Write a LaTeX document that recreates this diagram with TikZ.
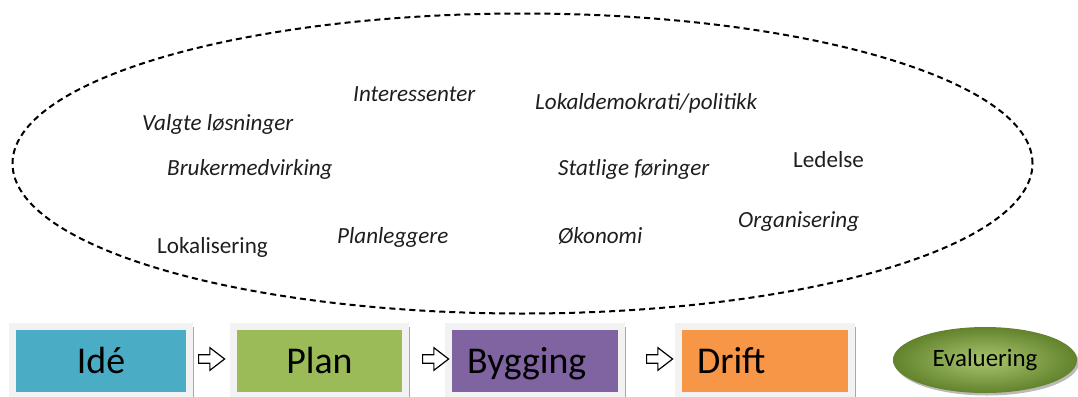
\documentclass[tikz,border=0pt]{standalone}
\usepackage{fontspec}
\setmainfont{Carlito}
\usetikzlibrary{shapes.geometric,shapes.arrows,shadows,backgrounds,calc}

\definecolor{ideblue}{HTML}{4BACC6}
\definecolor{plangreen}{HTML}{9BBB59}
\definecolor{byggpurple}{HTML}{8064A2}
\definecolor{driftorange}{HTML}{F79646}
\definecolor{evallight}{HTML}{A9C66E}
\definecolor{evaldark}{HTML}{62822C}
\definecolor{framefill}{HTML}{F2F2F2}
\definecolor{frameedge}{HTML}{A8A8A8}
\definecolor{inktext}{HTML}{1E1E1E}

\tikzset{
  factor/.style={font=\fontsize{23.2}{27}\selectfont\itshape, text=inktext,
    inner sep=0pt, anchor=base west},
  factorup/.style={factor, font=\fontsize{23.2}{27}\selectfont\upshape},
  phase/.style={rectangle, inner sep=0pt, minimum height=62bp,
    text height=30bp, text depth=6bp,
    font=\fontsize{38}{44}\selectfont, text=black},
  phaseleft/.style={phase, text width=136bp, inner xsep=15bp, align=left},
  hollowarrow/.style={single arrow, draw=black, fill=white, line width=1.2bp,
    minimum height=26bp, minimum width=15bp, inner xsep=0pt, inner ysep=3.6bp,
    single arrow tip angle=75, anchor=tail},
  evalnode/.style={ellipse, minimum width=184bp, minimum height=66bp,
    inner sep=0pt, shading=radial, inner color=evallight, outer color=evaldark,
    font=\fontsize{25}{29}\selectfont, text=black,
    drop shadow={shadow xshift=2bp, shadow yshift=-2.5bp, fill=black!45, opacity=0.6}},
  field/.style={ellipse, draw=black, line width=2bp,
    dash pattern=on 6bp off 4bp, minimum width=1020bp, minimum height=300bp,
    inner sep=0pt}
}

\begin{document}
\begin{tikzpicture}[x=1bp, y=-1bp]
  \useasboundingbox (0,0) rectangle (1078,396);
  \clip (0,0) rectangle (1078,396);

  % dashed field of influencing factors
  \node[field] (field) at (522.5,163.5) {};

  \node[factor]   (valgte)   at (142,130) {Valgte løsninger};
  \node[factor]   (interess) at (353,101) {Interessenter};
  \node[factor]   (lokdem)   at (535,109) {Lokaldemokrati/politikk};
  \node[factor]   (bruker)   at (167,175) {Brukermedvirking};
  \node[factor]   (statlige) at (558,175) {Statlige føringer};
  \node[factorup] (ledelse)  at (793,167) {Ledelse};
  \node[factorup] (lokal)    at (157,253) {Lokalisering};
  \node[factor]   (planl)    at (337,243) {Planleggere};
  \node[factor]   (okonomi)  at (558,243) {Økonomi};
  \node[factor]   (organ)    at (738,227) {Organisering};

  % project phases
  \node[phase, fill=ideblue, minimum width=170bp] (ide)  at (101,361) {Idé};
  \node[phase, fill=plangreen, minimum width=165bp] (plan) at (319.5,361) {Plan};
  \node[phaseleft, fill=byggpurple] (bygg)  at (535,361) {Bygging};
  \node[phaseleft, fill=driftorange] (drift) at (765,361) {Drift};

  \begin{scope}[on background layer]
    \foreach \b in {ide,plan,bygg,drift}{
      \fill[framefill] ($(\b.north west)+(-7,-7)$) rectangle ($(\b.south east)+(7,12)$);
      \draw[frameedge, line width=1.2bp] ($(\b.north east)+(7,-3)$) -- ($(\b.south east)+(7,12)$);
    }
  \end{scope}

  % hollow arrows between the phases
  \node[hollowarrow] (a1) at (198,359) {};
  \node[hollowarrow] (a2) at (422,359) {};
  \node[hollowarrow] (a3) at (646,359) {};

  % evaluation
  \node[evalnode] (eval) at (985,360) {Evaluering};
\end{tikzpicture}
\end{document}
